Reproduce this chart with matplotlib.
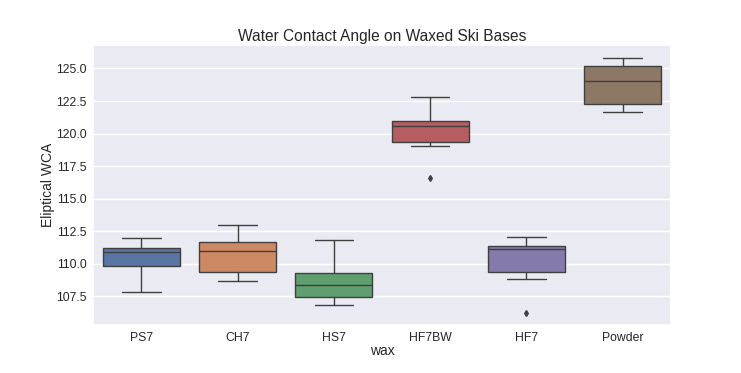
import matplotlib
matplotlib.use("Agg")
import matplotlib.pyplot as plt
import seaborn as sns

categories = ["PS7", "CH7", "HS7", "HF7BW", "HF7", "Powder"]
whis_low = [107.86, 108.65, 106.84, 119.04, 108.83, 121.62]
q1 = [109.82, 109.40, 107.48, 119.32, 109.40, 122.25]
median = [110.87, 111.00, 108.37, 120.57, 111.15, 124.03]
q3 = [111.20, 111.65, 109.31, 120.93, 111.40, 125.20]
whis_high = [111.96, 112.95, 111.83, 122.83, 112.06, 125.82]
outliers = [[], [], [], [116.62], [106.23], []]

sns.set_theme(style="darkgrid")
plt.rcParams['font.family'] = ['Liberation Sans', 'DejaVu Sans']

fig = plt.figure(figsize=(7.41, 3.73), dpi=100)
ax = fig.add_axes([93.3/741, 1-325/373, (670.7-93.3)/741, (325-45)/373])

stats = []
for i, c in enumerate(categories):
    stats.append(dict(label=c, whislo=whis_low[i], q1=q1[i], med=median[i],
                      q3=q3[i], whishi=whis_high[i], fliers=outliers[i]))

palette = [sns.desaturate(c, 0.75) for c in sns.color_palette("deep", 6)]
gray = "#3f3f3f"
bp = ax.bxp(stats, positions=range(len(categories)), widths=0.8, patch_artist=True,
            boxprops=dict(edgecolor=gray, linewidth=1.0),
            medianprops=dict(color=gray, linewidth=1.0),
            whiskerprops=dict(color=gray, linewidth=1.0),
            capprops=dict(color=gray, linewidth=1.0),
            flierprops=dict(marker='d', markerfacecolor=gray, markeredgecolor=gray,
                            markersize=3, linestyle='none'))
for patch, col in zip(bp['boxes'], palette):
    patch.set_facecolor(col)
for cap in bp['caps']:
    x = cap.get_xdata()
    m = (x[0] + x[1]) / 2
    cap.set_xdata([m - 0.2, m + 0.2])

ax.set_xlim(-0.5, len(categories) - 0.5)
ax.set_ylim(105.3, 126.8)
ax.set_yticks([107.5, 110.0, 112.5, 115.0, 117.5, 120.0, 122.5, 125.0])
ax.set_yticklabels(["107.5", "110.0", "112.5", "115.0", "117.5", "120.0", "122.5", "125.0"])
ax.set_xticks(range(len(categories)))
ax.set_xticklabels(categories)
ax.tick_params(labelsize=8.8, colors="#262626", length=0, pad=4.7)
ax.set_xlabel("wax", fontsize=10, color="#262626", labelpad=0.5)
ax.set_ylabel("Eliptical WCA", fontsize=10, color="#262626")
ax.yaxis.set_label_coords((55 - 93.3) / 577.4, 0.5)
ax.set_title("Water Contact Angle on Waxed Ski Bases", fontsize=11.2, color="#262626", pad=3)
ax.grid(axis='x', visible=False)

fig.savefig("out.png", dpi=100)
